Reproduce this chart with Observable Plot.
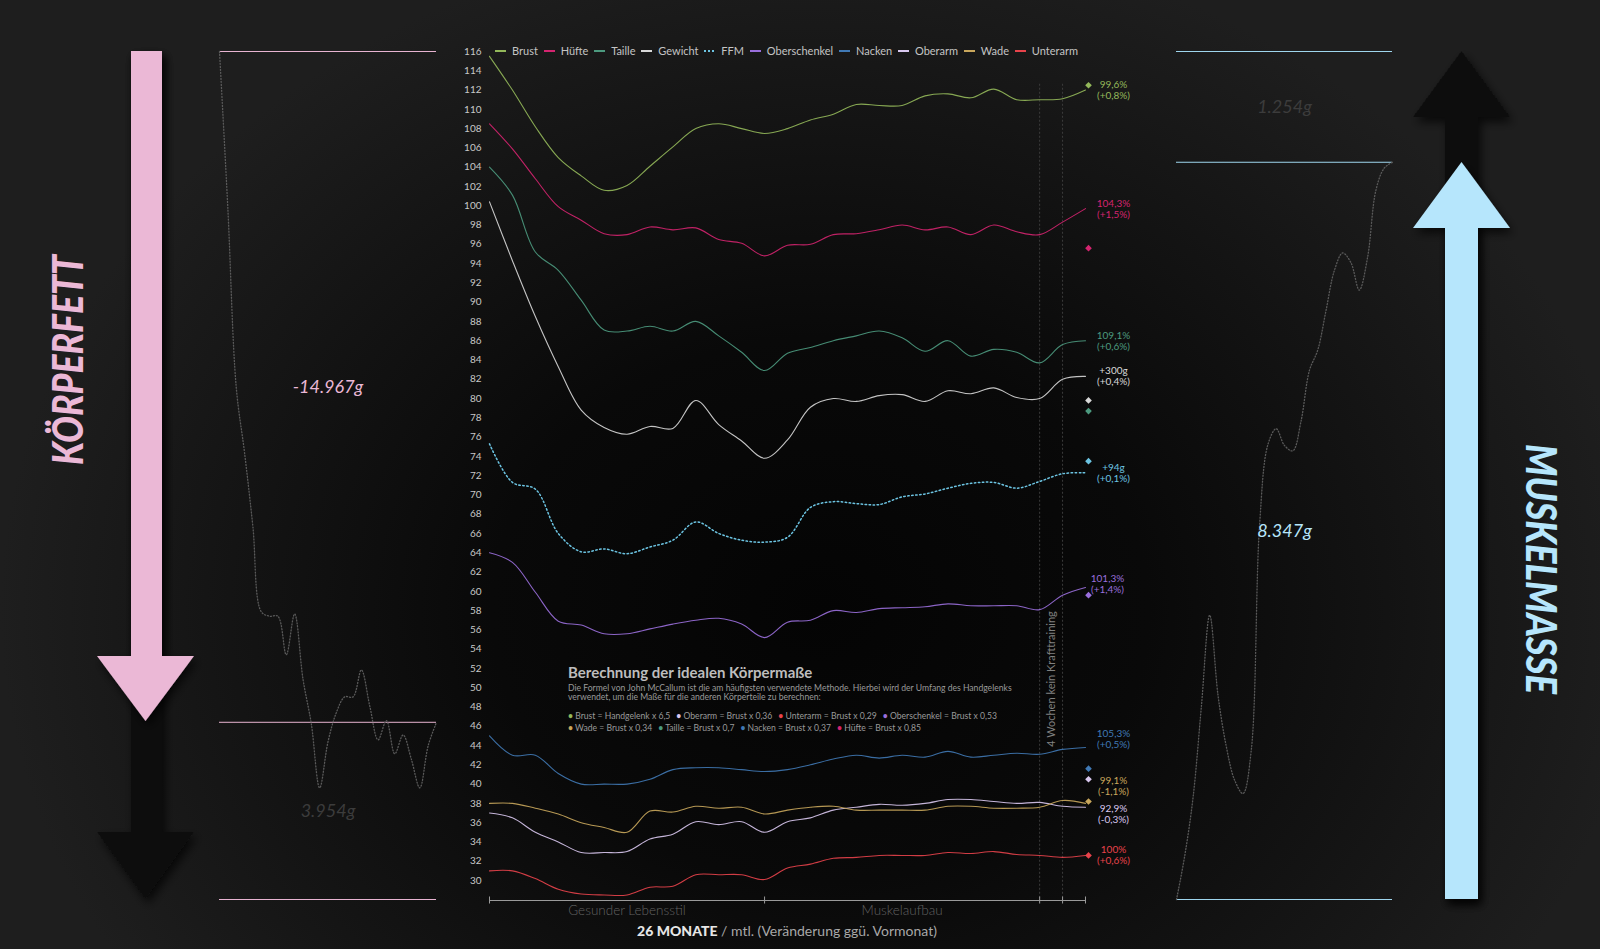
<!DOCTYPE html>
<html><head><meta charset="utf-8">
<script src="https://cdn.jsdelivr.net/npm/d3@7"></script>
<script src="https://cdn.jsdelivr.net/npm/@observablehq/plot@0.6"></script>
<style>
html,body{margin:0;padding:0;background:#151515;}
#root{position:relative;width:1600px;height:949px;overflow:hidden;font-family:Lato,"Open Sans",sans-serif;
 background: radial-gradient(ellipse 820px 680px at 820px 610px, #040404 0%, #090909 40%, #141414 72%, #1e1e1e 100%);}
#root > svg{position:absolute;left:0;top:0;}
#legend{position:absolute;left:495px;top:44px;width:583px;height:14px;line-height:14px;display:flex;justify-content:space-between;font-size:11px;color:#c4c4c4;}
#legend i{display:inline-block;width:11px;height:2px;margin-right:6px;vertical-align:middle;position:relative;top:-1px;}
#note{position:absolute;left:568px;top:663px;color:#9a9a9a;}
#note .t{font-size:15px;font-weight:700;line-height:18px;color:#bdbdbd;}
#note .d{font-size:8.6px;line-height:9px;margin-top:3px;}
#note .b{font-size:8.6px;line-height:12px;margin-top:8px;}
#note .b span{margin-right:6px;white-space:nowrap;}
#xtitle{position:absolute;left:487px;width:600px;top:922px;text-align:center;font-size:14px;color:#a8a8a8;line-height:18px;}
#xtitle b{color:#e6e6e6;font-weight:900;}
</style></head>
<body>
<div id="root">
<svg id="deco" width="1600" height="949">
  <defs>
    <filter id="sh" x="-30%" y="-10%" width="160%" height="130%"><feDropShadow dx="3" dy="5" stdDeviation="5" flood-color="#000" flood-opacity="0.7"/></filter>
  </defs>
  <path d="M131,51 H162 V832 H194 L145.5,899 L97,832 H131 Z" fill="#0f0f0f" filter="url(#sh)"/>
  <path d="M131,51 H162 V656 H194 L145.5,721 L97,656 H131 Z" fill="#ebb8d6" filter="url(#sh)"/>
  <path d="M1445,899 V117 H1413 L1461.5,51 L1510,117 H1478 V899 Z" fill="#0f0f0f" filter="url(#sh)"/>
  <path d="M1445,899 V228 H1413 L1461.5,162 L1510,228 H1478 V899 Z" fill="#b6e6fc" filter="url(#sh)"/>
  <text transform="translate(67,360) rotate(-90)" text-anchor="middle" dominant-baseline="central" font-family="Lato" font-weight="900" font-style="italic" font-size="42" textLength="210" lengthAdjust="spacingAndGlyphs" fill="#ebb8d6">KÖRPERFETT</text>
  <text transform="translate(1542,569) rotate(90)" text-anchor="middle" dominant-baseline="central" font-family="Lato" font-weight="900" font-style="italic" font-size="42" textLength="250" lengthAdjust="spacingAndGlyphs" fill="#b6e6fc">MUSKELMASSE</text>
</svg>
<div id="legend"></div>
<div id="note">
  <div class="t">Berechnung der idealen Körpermaße</div>
  <div class="d">Die Formel von John McCallum ist die am häufigsten verwendete Methode. Hierbei wird der Umfang des Handgelenks<br>verwendet, um die Maße für die anderen Körperteile zu berechnen:</div>
  <div class="b" id="bullets"></div>
</div>
<div id="xtitle"><b>26 MONATE</b> / mtl. (Veränderung ggü. Vormonat)</div>
</div>
<script>
// ---------- data ----------
const months = [0,1,2,3,4,5,6,7,8,9,10,11,12,13,14,15,16,17,18,19,20,21,22,23,24,25,26];
const seriesNames = ["Brust","Hüfte","Taille","Gewicht","FFM","Oberschenkel","Nacken","Oberarm","Wade","Unterarm"];
const seriesColors = ["#93b85a","#d4246f","#4c9a7f","#d8d8d8","#6cc4e2","#9a6fdc","#4079b5","#d9c8ef","#c9a75c","#e8434b"];

const brust        = [115.5,112.0,108.2,105.0,103.1,101.6,102.1,104.1,106.1,108.0,108.5,108.0,107.5,108.0,108.9,109.5,110.5,110.4,110.4,111.4,111.6,111.2,112.1,111.0,111.0,111.1,112.0];
const huefte       = [108.5,105.9,102.8,99.9,98.5,97.1,97.0,97.8,97.5,97.7,96.5,96.1,94.8,95.9,96.0,97.0,97.1,97.5,98.0,97.5,97.8,97.0,98.0,97.3,97.0,98.3,99.7];
const taille       = [104.0,101.1,95.2,93.3,90.2,87.1,87.0,87.5,87.0,88.0,86.5,84.8,82.9,84.7,85.3,86.0,86.5,87.0,86.3,84.9,86.0,84.4,85.1,84.8,83.7,85.6,86.0];
const gewicht      = [100.4,94.3,88.5,83.3,78.8,77.0,76.3,77.1,76.9,79.8,77.3,75.6,73.8,75.7,79.1,80.0,79.7,80.3,80.4,79.7,80.8,80.5,81.1,80.1,80.0,82.0,82.3];
const ffm          = [75.3,71.3,70.6,66.0,64.1,64.4,63.9,64.6,65.3,67.2,66.0,65.3,65.1,65.6,68.7,69.3,69.1,69.0,69.8,70.1,70.7,71.2,71.3,70.7,71.4,72.2,72.3];
const oberschenkel = [64.0,63.0,59.9,56.9,56.5,55.6,55.6,56.1,56.6,57.0,57.2,56.6,55.2,56.8,57.0,58.0,57.8,58.2,58.3,58.4,58.7,58.5,58.5,58.5,58.1,59.6,60.4];
const nacken       = [45.0,43.0,43.0,41.1,40.0,40.0,40.0,40.5,41.5,41.7,41.7,41.5,41.3,41.5,42.0,42.6,43.0,42.7,43.0,42.8,43.4,42.8,43.0,43.2,43.1,43.6,43.8];
const oberarm      = [37.0,36.5,35.0,34.0,32.9,32.9,33.0,34.3,34.8,36.1,35.8,36.1,35.0,36.1,36.5,37.3,37.6,37.9,37.8,38.0,38.4,38.4,38.2,38.0,38.1,37.7,37.6];
const wade         = [38.0,38.0,37.5,36.9,36.0,35.5,35.0,37.2,37.1,37.7,37.5,37.6,36.9,37.3,37.6,37.7,37.3,37.3,37.3,37.3,37.7,37.7,37.5,37.5,37.6,38.3,38.0];
const unterarm     = [31.0,31.0,30.2,29.1,28.6,28.5,28.5,29.3,29.4,30.6,30.6,30.6,30.1,31.3,31.7,32.3,32.4,32.6,32.6,32.6,32.9,32.8,33.0,32.7,32.6,32.4,32.6];

// ideal values (diamonds)
const targets = [112.5,95.6,78.7,79.8,73.5,59.6,41.6,40.5,38.2,32.6];
const labelValue  = ["99,6%","104,3%","109,1%","+300g","+94g","101,3%","105,3%","92,9%","99,1%","100%"];
const labelChange = ["(+0,8%)","(+1,5%)","(+0,6%)","(+0,4%)","(+0,1%)","(+1,4%)","(+0,5%)","(-0,3%)","(-1,1%)","(+0,6%)"];

const yTicks = [30,32,34,36,38,40,42,44,46,48,50,52,54,56,58,60,62,64,66,68,70,72,74,76,78,80,82,84,86,88,90,92,94,96,98,100,102,104,106,108,110,112,114,116];
const axisTicks = [0,12,24,25,26];
const breaks = [24,25];
const phases = ["Gesunder Lebensstil","Muskelaufbau"];
const phaseCenters = [6,18];
const breakNote = "4 Wochen kein Krafttraining";

// side panels (kg)
const fatChange = [0,-3.5,-7.48,-8.95,-10.6,-12.5,-12.6,-12.6,-13.46,-12.55,-14.0,-15.0,-16.43,-15.4,-14.75,-14.4,-14.4,-13.8,-14.6,-15.36,-14.93,-15.67,-15.25,-15.8,-16.43,-15.49,-14.967];
const fatLost = 14.967, fatRemaining = 3.954;
const muscleChange = [0,0.5,1.16,2.19,3.22,2.31,1.73,1.35,1.2,1.69,4.24,5.15,5.33,5.14,5.08,5.42,5.99,6.22,6.67,7.12,7.32,7.21,6.9,7.27,8.03,8.28,8.347];
const muscleGained = 8.347, muscleRemaining = 1.254;

// ---------- build tables ----------
const seriesValues = [brust,huefte,taille,gewicht,ffm,oberschenkel,nacken,oberarm,wade,unterarm];
const rows = seriesNames.flatMap((name,i)=> seriesValues[i].map((v,j)=>({name, m: months[j], v})));
const endRows = seriesNames.map((name,i)=>({name, v: seriesValues[i][seriesValues[i].length-1], t: labelValue[i]+"\n"+labelChange[i], target: targets[i]}));
const fmt = d3.format(".3f");

const labelDx = {Oberschenkel: 22};
const labelDy = {Nacken: -9, Wade: -17, Oberarm: 7, Oberschenkel: -3};

// legend
const leg = document.getElementById("legend");
seriesNames.forEach((n,i)=>{
  const s = document.createElement("span");
  const bg = n==="FFM"
    ? `background:repeating-linear-gradient(90deg, ${seriesColors[i]} 0 2px, transparent 2px 4px)`
    : `background:${seriesColors[i]}`;
  s.innerHTML = `<i style="${bg}"></i>${n}`;
  leg.appendChild(s);
});
// bullets
const bulletText = [["Brust","Brust = Handgelenk x 6,5"],["Oberarm","Oberarm = Brust x 0,36"],["Unterarm","Unterarm = Brust x 0,29"],["Oberschenkel","Oberschenkel = Brust x 0,53"],null,["Wade","Wade = Brust x 0,34"],["Taille","Taille = Brust x 0,7"],["Nacken","Nacken = Brust x 0,37"],["Hüfte","Hüfte = Brust x 0,85"]];
const bl = document.getElementById("bullets");
bl.innerHTML = bulletText.map(b => b===null ? "<br>" : `<span><b style="color:${seriesColors[seriesNames.indexOf(b[0])]}">•</b>&nbsp;${b[1]}</span>`).join("");

const root = document.getElementById("root");
const base = {width:1600, height:949, style:{background:"transparent", color:"#c8c8c8", fontFamily:"Lato, sans-serif", fontSize:"10px"}};

// ---------- main chart ----------
const main = Plot.plot({
  ...base,
  marginLeft:489, marginRight:515, marginTop:51, marginBottom:69,
  x:{domain:[0,26], axis:null},
  y:{domain:[30,116], ticks:yTicks, tickSize:0, tickPadding:8, label:null},
  color:{domain:seriesNames, range:seriesColors},
  marks:[
    Plot.ruleX(breaks, {x:d=>d, y1:112.6, y2:30, insetBottom:-20, stroke:"#3c3c3c", strokeDasharray:"2,2"}),
    Plot.ruleY([30], {x1:0, x2:26, dy:20, stroke:"#9a9a9a", strokeWidth:1}),
    Plot.ruleX(axisTicks, {x:d=>d, y1:30, y2:30, dy:20, insetTop:-3.5, insetBottom:-3.5, stroke:"#9a9a9a"}),
    Plot.text(phases, {x:(d,i)=>phaseCenters[i], y:30, dy:30, text:d=>d, fill:"#626262", fontSize:13.5, fontWeight:300}),
    Plot.text([breakNote], {x:24.5, y:50.9, text:d=>d, rotate:-90, fill:"#808080", fontSize:11}),
    Plot.line(rows.filter(d=>d.name!=="FFM"), {x:"m", y:"v", z:"name", stroke:"name", curve:"catmull-rom", strokeWidth:1.1, strokeOpacity:0.9}),
    Plot.line(rows.filter(d=>d.name==="FFM"), {x:"m", y:"v", stroke:"name", curve:"catmull-rom", strokeWidth:1.5, strokeDasharray:"1.5,2.5"}),
    Plot.dot(endRows, {x:26, y:"target", fill:"name", symbol:"diamond2", r:3, dx:3}),
    ...endRows.map(r => Plot.text([r], {x:26, y:"v", text:"t", fill:"name", fontSize:10, lineHeight:1.1, dx: labelDx[r.name] ?? 28, dy: labelDy[r.name] ?? 0}))
  ]
});
root.appendChild(main);

// ---------- left panel: Körperfett ----------
const fatRows = months.map((m,i)=>({m, v: fatChange[i]}));
const left = Plot.plot({
  ...base,
  marginLeft:219, marginRight:1164, marginTop:51, marginBottom:50,
  x:{domain:[0,26], axis:null},
  y:{domain:[-(fatLost+fatRemaining), 0], axis:null},
  marks:[
    Plot.ruleY([0, -fatLost, -(fatLost+fatRemaining)], {stroke:"#e8b4d2", strokeWidth:1}),
    Plot.line(fatRows, {x:"m", y:"v", curve:"catmull-rom", stroke:"#5a5a5a", strokeWidth:1.3, strokeDasharray:"1,2"}),
    Plot.text([{v:-fatLost/2, t:"-"+fmt(fatLost)+"g", c:"#ebb8d6"}, {v:-fatLost-fatRemaining/2, t:fmt(fatRemaining)+"g", c:"#3c3c3c"}],
      {x:13, y:"v", text:"t", fill:"c", fontSize:18, fontStyle:"italic"})
  ]
});
root.appendChild(left);

// ---------- right panel: Muskelmasse ----------
const muscleRows = months.map((m,i)=>({m, v: muscleChange[i]}));
const right = Plot.plot({
  ...base,
  marginLeft:1176, marginRight:208, marginTop:51, marginBottom:50,
  x:{domain:[0,26], axis:null},
  y:{domain:[0, muscleGained+muscleRemaining], axis:null},
  marks:[
    Plot.ruleY([0, muscleGained, muscleGained+muscleRemaining], {stroke:"#9fd6ee", strokeWidth:1}),
    Plot.line(muscleRows, {x:"m", y:"v", curve:"catmull-rom", stroke:"#5a5a5a", strokeWidth:1.3, strokeDasharray:"1,2"}),
    Plot.text([{v:muscleGained/2, t:fmt(muscleGained)+"g", c:"#b6e6fc"}, {v:muscleGained+muscleRemaining/2, t:fmt(muscleRemaining)+"g", c:"#3c3c3c"}],
      {x:13, y:"v", text:"t", fill:"c", fontSize:18, fontStyle:"italic"})
  ]
});
root.appendChild(right);
</script>
</body></html>
